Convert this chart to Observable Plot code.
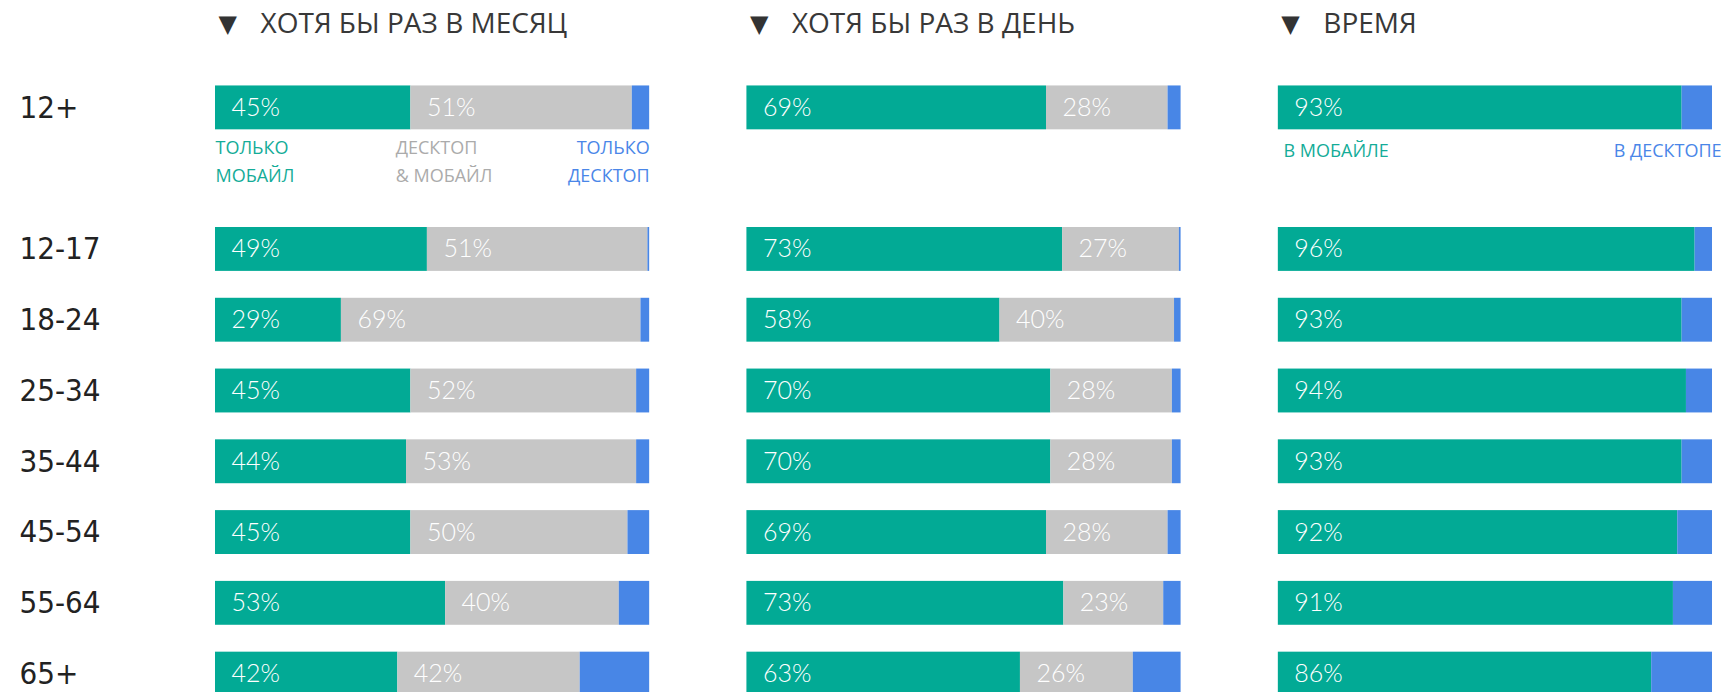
<!DOCTYPE html>
<html>
<head>
<meta charset="utf-8">
<script src="https://cdn.jsdelivr.net/npm/d3@7"></script>
<script src="https://cdn.jsdelivr.net/npm/@observablehq/plot@0.6"></script>
<style>
  html, body { margin: 0; padding: 0; background: #fff; overflow: hidden; }
  #chart svg { display: block; }
</style>
</head>
<body>
<div id="chart"></div>
<script>
// ---- data ----
const panels = ["month", "day", "time"];
const panelTitles = ["ХОТЯ БЫ РАЗ В МЕСЯЦ", "ХОТЯ БЫ РАЗ В ДЕНЬ", "ВРЕМЯ"];
const ages = ["12+", "12-17", "18-24", "25-34", "35-44", "45-54", "55-64", "65+"];
const segs = ["mobile", "both", "desktop"];
const segColors = ["#02AA95", "#C6C6C6", "#4886E6"];

const monthMobile  = [45, 49, 29, 45, 44, 45, 53, 42];
const monthBoth    = [51, 51, 69, 52, 53, 50, 40, 42];
const monthDesktop = [4, 0.4, 2, 3, 3, 5, 7, 16];

const dayMobile  = [69, 73, 58, 70, 70, 69, 73, 63];
const dayBoth    = [28, 27, 40, 28, 28, 28, 23, 26];
const dayDesktop = [3, 0.4, 1.5, 2, 2, 3, 4, 11];

const timeMobile  = [93, 96, 93, 94, 93, 92, 91, 86];
const timeDesktop = [7, 4, 7, 6, 7, 8, 9, 14];

const legendPanel = ["month", "month", "month", "time", "time"];
const legendSeg   = ["mobile", "both", "desktop", "mobile", "desktop"];
const legendText  = ["ТОЛЬКО\nМОБАЙЛ", "ДЕСКТОП\n& МОБАЙЛ", "ТОЛЬКО\nДЕСКТОП", "В МОБАЙЛЕ", "В ДЕСКТОПЕ"];
const legendColors = {mobile: "#14AC98", both: "#ABABAB", desktop: "#4A86E8"};

// ---- table ----
const series = {
  month: {mobile: monthMobile, both: monthBoth, desktop: monthDesktop},
  day:   {mobile: dayMobile, both: dayBoth, desktop: dayDesktop},
  time:  {mobile: timeMobile, desktop: timeDesktop}
};
const rows = [];
for (const p of panels) {
  ages.forEach((age, i) => {
    for (const s of segs) {
      if (series[p][s]) rows.push({panel: p, age, seg: s, value: series[p][s][i]});
    }
  });
}
const yDomain = [ages[0], " ", ...ages.slice(1)];

const legend = legendText.map((t, i) => ({panel: legendPanel[i], seg: legendSeg[i], text: t}));
const legendTwo = legend.filter(d => d.text.includes("\n"));
const legendOne = legend.filter(d => !d.text.includes("\n"));
// horizontal anchor (share of bar width) for legend labels
const legendPos = {month: {mobile: 0, both: 0.415, desktop: 1}, time: {mobile: 0.012, desktop: 1.021}};

const headerFont = "'Open Sans', sans-serif";
const numFont = "Lato, sans-serif";
const ageFont = "'Liberation Sans Narrow', 'DejaVu Sans Condensed', sans-serif";

function legendMarks(data, dy) {
  const common = {
    fx: "panel", y: () => ages[0], x: d => legendPos[d.panel][d.seg],
    text: "text", fill: d => legendColors[d.seg],
    lineAnchor: "top", dy, lineHeight: 1.55,
    fontSize: 18, fontFamily: headerFont
  };
  return [
    Plot.text(data.filter(d => d.seg !== "desktop"), {...common, textAnchor: "start"}),
    Plot.text(data.filter(d => d.seg === "desktop"), {...common, textAnchor: "end"})
  ];
}

const chart = Plot.plot({
  width: 1721,
  height: 709,
  marginLeft: 215,
  marginRight: 9,
  marginTop: 72,
  marginBottom: 0,
  style: {background: "#fff"},
  fx: {domain: panels, axis: null, paddingInner: 0.183, paddingOuter: 0, round: false},
  x: {domain: [0, 1], axis: null},
  y: {domain: yDomain, paddingInner: 0.38, paddingOuter: 0.19, axis: null, round: false},
  color: {domain: segs, range: segColors},
  marks: [
    Plot.barX(rows, Plot.stackX({
      x: "value", y: "age", fx: "panel", fill: "seg", order: segs, offset: "normalize"
    })),
    Plot.text(rows, Plot.stackX1({
      x: "value", y: "age", fx: "panel", z: "seg", order: segs, offset: "normalize",
      text: d => d.seg === "desktop" ? "" : d.value + "%",
      textAnchor: "start", dx: 16, fill: "white",
      fontSize: 25, fontWeight: 300, fontFamily: numFont
    })),
    Plot.axisY({
      tickSize: 0, tickPadding: 0, textAnchor: "start", dx: -196,
      fontSize: 31, fill: "#222", fontFamily: ageFont, label: null
    }),
    // panel headers
    Plot.text(panels, {
      fx: d => d, text: () => "▼", frameAnchor: "top-left",
      dx: 3, dy: -48, textAnchor: "start", lineAnchor: "middle",
      fontSize: 24, fill: "#333", fontFamily: "'DejaVu Sans', sans-serif"
    }),
    Plot.text(panels, {
      fx: d => d, text: (d, i) => panelTitles[i], frameAnchor: "top-left",
      dx: 45, dy: -48, textAnchor: "start", lineAnchor: "middle",
      fontSize: 28, fill: "#383838", fontFamily: headerFont
    }),
    // legend labels under the 12+ row
    ...legendMarks(legendTwo, 26),
    ...legendMarks(legendOne, 29)
  ]
});
document.getElementById("chart").appendChild(chart);
</script>
</body>
</html>
